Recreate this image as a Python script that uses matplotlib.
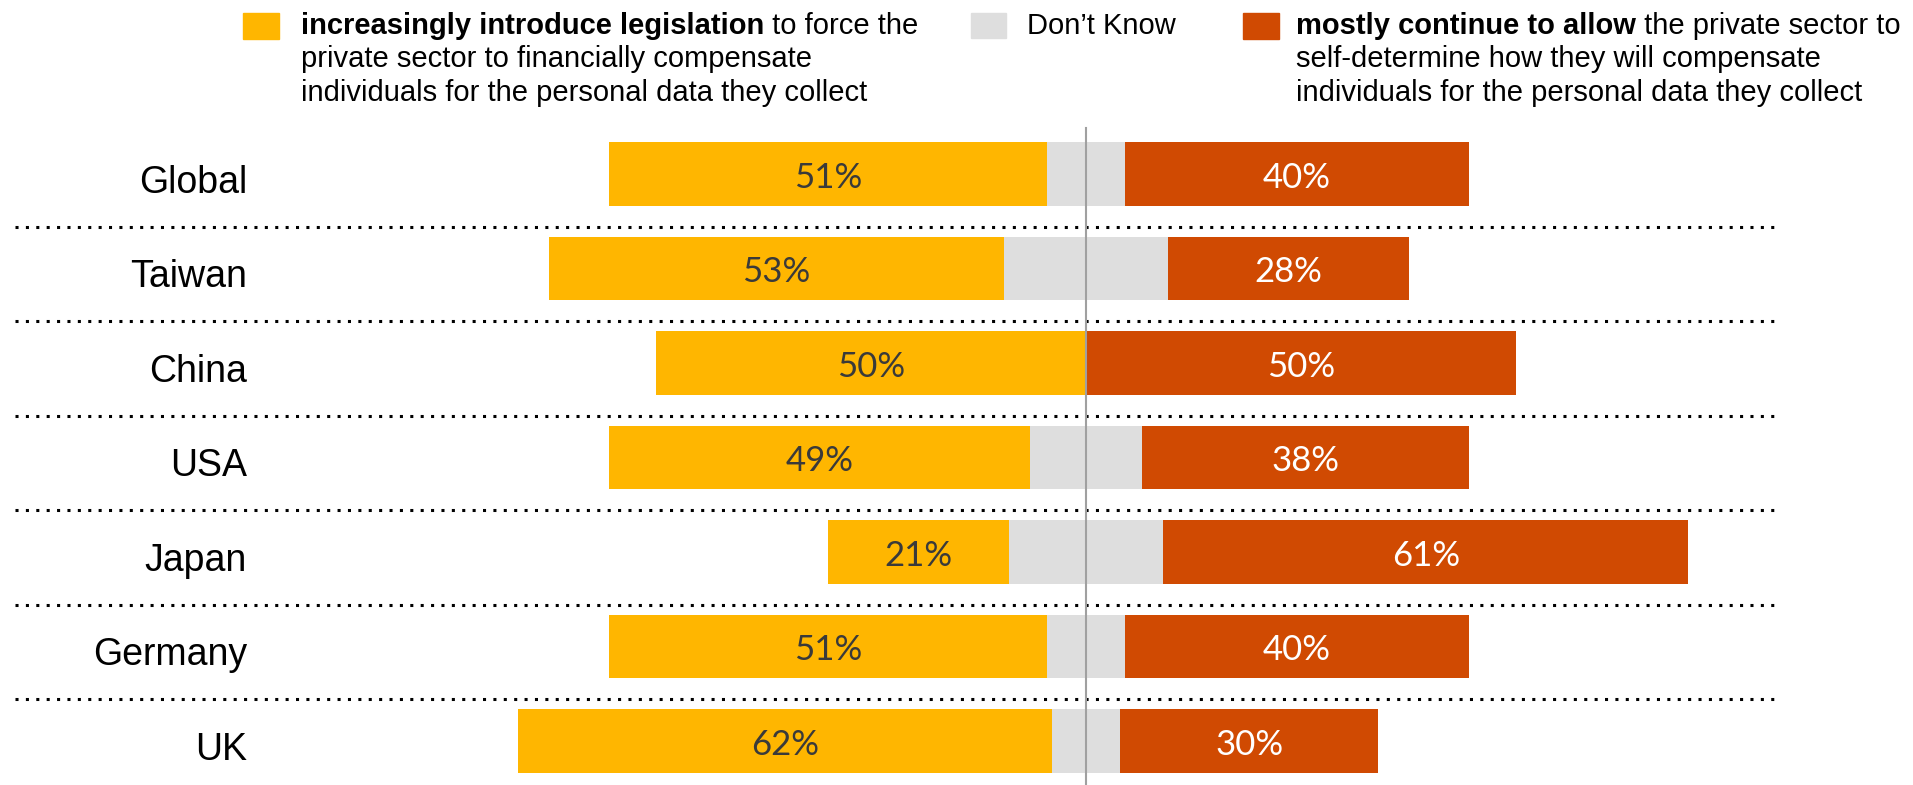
import numpy as np
import matplotlib
matplotlib.use('Agg')
import matplotlib.pyplot as plt
from matplotlib import transforms
from matplotlib.patches import Rectangle

countries = ['Global', 'Taiwan', 'China', 'USA', 'Japan', 'Germany', 'UK']
legislation = [51, 53, 50, 49, 21, 51, 62]
dont_know = [9, 19, 0, 13, 18, 9, 8]
allow = [40, 28, 50, 38, 61, 40, 30]

yellow = '#FFB600'
grey = '#DEDEDE'
red = '#D04A02'

W, H = 1913, 785
fig = plt.figure(figsize=(W / 100, H / 100), dpi=100, facecolor='white')
ax = fig.add_axes([0, 0, 1, 1])

# pixel layout: centre line at x=1086, 8.6 px per percent, rows every 94.5 px
cx, ppu = 1086, 8.6
ax.set_xlim(-cx / ppu, (W - cx) / ppu)
ax.set_ylim((H - 174) / 94.5, -174 / 94.5)
ax.axis('off')

y = np.arange(len(countries))
leg = np.array(legislation)
dk = np.array(dont_know)
al = np.array(allow)

ax.barh(y, leg, left=-dk / 2 - leg, height=0.667, color=yellow)
ax.barh(y, dk, left=-dk / 2, height=0.667, color=grey)
ax.barh(y, al, left=dk / 2, height=0.667, color=red)

for i in range(len(countries)):
    ax.text(-dk[i] / 2 - leg[i] / 2, y[i] + 0.04, f'{legislation[i]}%', ha='center', va='center',
            fontsize=25, family='Lato', color='#3A3A3A')
    ax.text(dk[i] / 2 + al[i] / 2, y[i] + 0.04, f'{allow[i]}%', ha='center', va='center',
            fontsize=25, family='Lato', color='white')

# separators between rows
for i in range(len(countries) - 1):
    ax.axhline(i + 0.556, xmin=15 / W, xmax=1781 / W, color='black', lw=2.2,
               linestyle=(0, (1, 2.4)), zorder=0)

ax.axvline(0, ymin=0, ymax=1 - 128 / H, color='#A0A0A0', lw=1.5, zorder=3)

# country labels
trans = transforms.blended_transform_factory(fig.transFigure, ax.transData)
for i, c in enumerate(countries):
    ax.text(247 / W, y[i] + 0.09, c, transform=trans, ha='right', va='center',
            fontsize=27, family='Liberation Sans', color='black')

# legend
fig.add_artist(Rectangle((243 / W, 1 - 39 / H), 36 / W, 26 / H, transform=fig.transFigure, color=yellow))
fig.add_artist(Rectangle((971 / W, 1 - 38 / H), 35 / W, 25 / H, transform=fig.transFigure, color=grey))
fig.add_artist(Rectangle((1243 / W, 1 - 39 / H), 36 / W, 26 / H, transform=fig.transFigure, color=red))

fs = 21
line_y = [26, 59, 93]
renderer = fig.canvas.get_renderer()

def mixed_line(x, yy, bold, rest):
    t = fig.text(x / W, 1 - yy / H, bold, fontsize=fs, family='Liberation Sans', weight='bold', va='center')
    bb = t.get_window_extent(renderer=renderer)
    fig.text(bb.x1 / W, 1 - yy / H, rest, fontsize=fs, family='Liberation Sans', va='center')

mixed_line(301, line_y[0], 'increasingly introduce legislation', ' to force the')
fig.text(301 / W, 1 - line_y[1] / H, 'private sector to financially compensate', fontsize=fs,
         family='Liberation Sans', va='center')
fig.text(301 / W, 1 - line_y[2] / H, 'individuals for the personal data they collect', fontsize=fs,
         family='Liberation Sans', va='center')

fig.text(1027 / W, 1 - line_y[0] / H, 'Don\u2019t Know', fontsize=fs, family='Liberation Sans', va='center')

mixed_line(1296, line_y[0], 'mostly continue to allow', ' the private sector to')
fig.text(1296 / W, 1 - line_y[1] / H, 'self-determine how they will compensate', fontsize=fs,
         family='Liberation Sans', va='center')
fig.text(1296 / W, 1 - line_y[2] / H, 'individuals for the personal data they collect', fontsize=fs,
         family='Liberation Sans', va='center')

plt.savefig('out.png', dpi=100, facecolor='white')
